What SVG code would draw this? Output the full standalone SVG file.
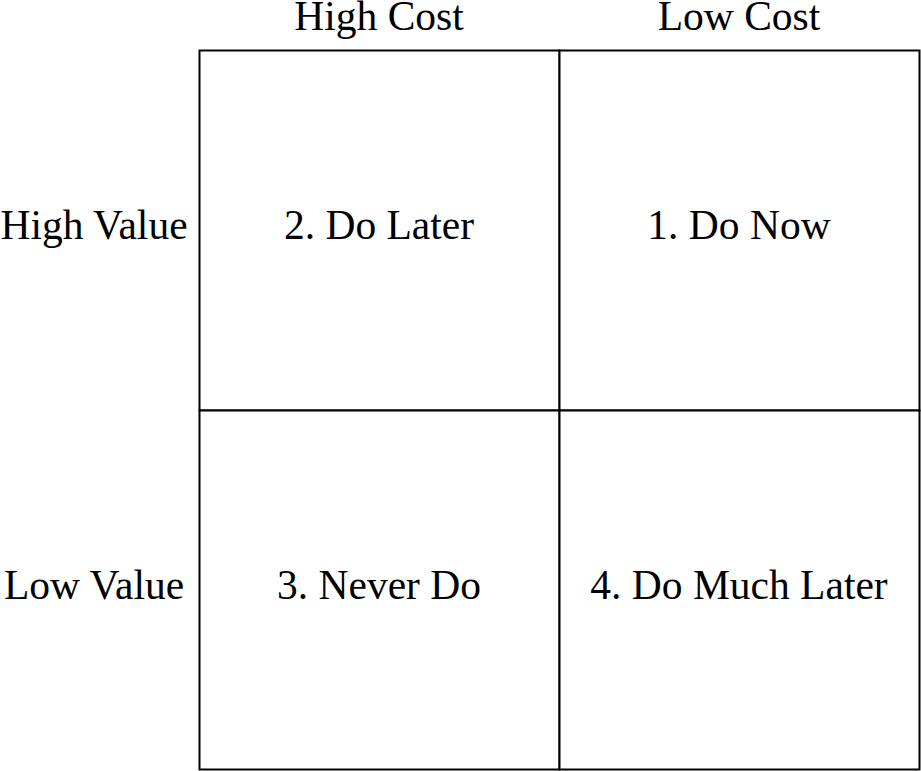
<svg xmlns="http://www.w3.org/2000/svg" width="921" height="771" viewBox="0 0 921 771">
  <style>
    .cell { fill: #ffffff; stroke: #000000; stroke-width: 2; }
    .lbl { font-size: 41.5px; fill: #000000; text-anchor: middle; }
  </style>
  <rect width="921" height="771" fill="#ffffff"/>
  <g font-family="Liberation Serif, Tinos, Times New Roman, DejaVu Serif, serif">
    <!-- column headers -->
    <g id="header-high-cost"><text class="lbl" x="379" y="30">High Cost</text></g>
    <g id="header-low-cost"><text class="lbl" x="739" y="30">Low Cost</text></g>
    <!-- row headers -->
    <g id="header-high-value"><text class="lbl" x="94" y="239">High Value</text></g>
    <g id="header-low-value"><text class="lbl" x="94" y="599">Low Value</text></g>
    <!-- quadrants -->
    <g id="q-do-later">
      <rect class="cell" x="199.5" y="50.5" width="360" height="360"/>
      <text class="lbl" x="379" y="239">2. Do Later</text>
    </g>
    <g id="q-do-now">
      <rect class="cell" x="559.5" y="50.5" width="360" height="360"/>
      <text class="lbl" x="739" y="239">1. Do Now</text>
    </g>
    <g id="q-never-do">
      <rect class="cell" x="199.5" y="410.5" width="360" height="359"/>
      <text class="lbl" x="379" y="599">3. Never Do</text>
    </g>
    <g id="q-do-much-later">
      <rect class="cell" x="559.5" y="410.5" width="360" height="359"/>
      <text class="lbl" x="739" y="599">4. Do Much Later</text>
    </g>
  </g>
  <g id="connectors"/>
</svg>
